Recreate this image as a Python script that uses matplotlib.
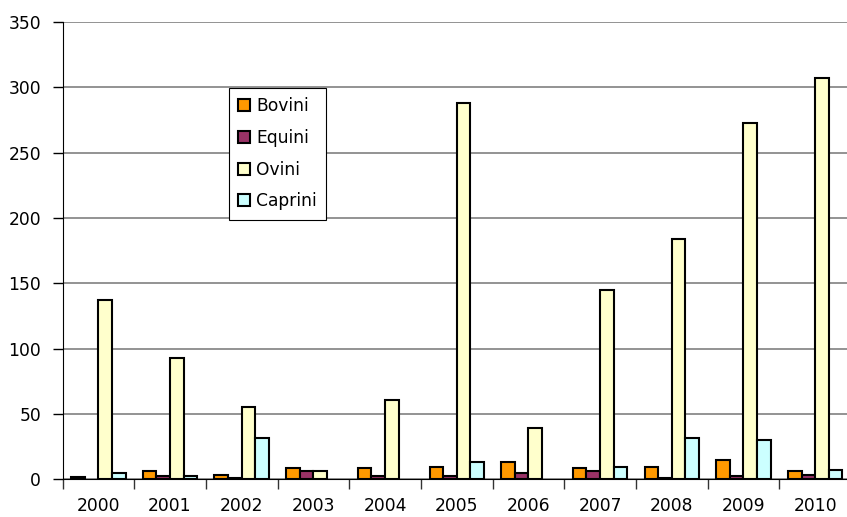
import matplotlib
matplotlib.use("Agg")
import matplotlib.pyplot as plt
import numpy as np

years = ["2000", "2001", "2002", "2003", "2004", "2005", "2006", "2007", "2008", "2009", "2010"]
bovini = [2, 6, 3.3, 8.4, 8.4, 9.7, 13.3, 8.4, 9.7, 14.5, 6]
equini = [0, 2.3, 1, 6, 2.3, 2.3, 4.8, 6, 1, 2.3, 3.6]
ovini = [137, 93, 55, 6, 61, 288, 39, 145, 184, 273, 307]
caprini = [5, 2.3, 31.6, 0, 0, 13.3, 0, 9.7, 31.6, 30.4, 7]

series = [("Bovini", bovini, "#FF9900"),
          ("Equini", equini, "#993366"),
          ("Ovini", ovini, "#FFFFCC"),
          ("Caprini", caprini, "#CCFFFF")]

plt.rcParams['font.family'] = ['DejaVu Sans']
FS = 12.3

fig = plt.figure(figsize=(8.47, 5.17), dpi=100)
W, H = 847, 517
left, right, top, bottom = 62.5, 851, 22, 479.3
ax = fig.add_axes([left / W, 1 - bottom / H, (right - left) / W, (bottom - top) / H])

x = np.arange(len(years))
bw = 0.19
for i, (name, vals, col) in enumerate(series):
    v = np.array(vals, dtype=float)
    v = np.where(v == 0, np.nan, v)  # zero bars are not drawn
    ax.bar(x + (i - 1.5) * bw, v, width=bw, color=col, edgecolor="black",
           linewidth=1.5, label=name, zorder=3)

ax.set_xlim(-0.5, len(years) - 0.5)
ax.set_ylim(0, 350)
ax.set_yticks(np.arange(0, 351, 50))
ax.set_xticks(x)
ax.set_xticklabels(years)
ax.set_xticks(np.arange(-0.5, len(years), 1), minor=True)
ax.tick_params(axis="x", which="major", length=0, pad=13, labelsize=FS)
ax.tick_params(axis="x", which="minor", length=7, width=1, color="#333333")
ax.tick_params(axis="y", length=7, width=1, labelsize=FS, pad=8.5)

ax.grid(axis="y", color="#808080", linewidth=1.2, zorder=0)
for s in ["top", "right"]:
    ax.spines[s].set_visible(False)
ax.spines["left"].set_color("black")
ax.spines["bottom"].set_color("black")
ax.spines["left"].set_zorder(4)
ax.spines["bottom"].set_zorder(4)

leg = ax.legend(loc="upper left", bbox_to_anchor=((229 - left) / (right - left), (bottom - 88) / (bottom - top)),
                fontsize=FS, frameon=True, fancybox=False, shadow=False, framealpha=1,
                edgecolor="black", handlelength=0.7, handleheight=0.7, handletextpad=0.35,
                labelspacing=0.8, borderpad=0.55, borderaxespad=0)
leg.get_frame().set_linewidth(0.8)
leg.set_zorder(5)

fig.savefig("out.png", dpi=100)
